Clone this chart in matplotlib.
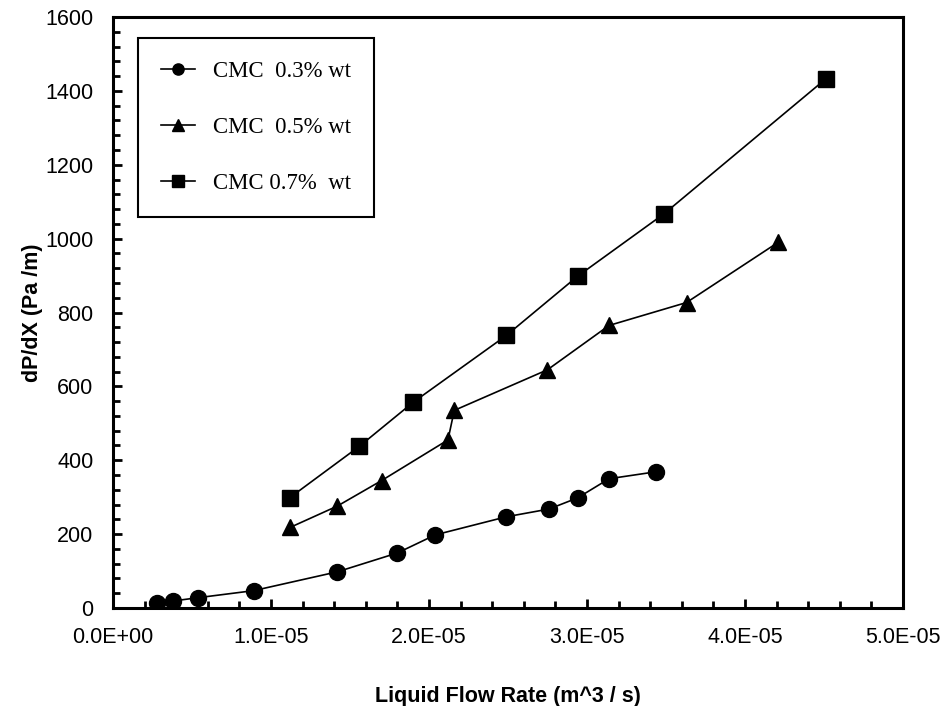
import matplotlib.pyplot as plt
from matplotlib.ticker import MultipleLocator, FuncFormatter

# CMC 0.3% wt
q_03 = [2.8e-6, 3.8e-6, 5.4e-6, 8.9e-6, 1.42e-5, 1.80e-5, 2.04e-5, 2.49e-5, 2.76e-5, 2.94e-5, 3.14e-5, 3.44e-5]
dp_03 = [14, 19, 28, 47, 98, 149, 198, 247, 268, 298, 350, 369]
# CMC 0.5% wt
q_05 = [1.12e-5, 1.42e-5, 1.70e-5, 2.12e-5, 2.16e-5, 2.75e-5, 3.14e-5, 3.63e-5, 4.21e-5]
dp_05 = [218, 276, 345, 455, 535, 645, 765, 827, 990]
# CMC 0.7% wt
q_07 = [1.12e-5, 1.56e-5, 1.90e-5, 2.49e-5, 2.94e-5, 3.49e-5, 4.51e-5]
dp_07 = [299, 438, 557, 738, 898, 1068, 1432]

labels = ['CMC  0.3% wt', 'CMC  0.5% wt', 'CMC 0.7%  wt']

tick_font = ['Liberation Sans', 'DejaVu Sans']

fig = plt.figure(figsize=(9.48, 7.06), dpi=100)
ax = fig.add_axes([0.1192, 0.1388, 0.8333, 0.8371])

ax.plot(q_03, dp_03, 'k-o', lw=1.2, ms=11.5, label=labels[0])
ax.plot(q_05, dp_05, 'k-^', lw=1.2, ms=12, label=labels[1])
ax.plot(q_07, dp_07, 'k-s', lw=1.2, ms=11.5, label=labels[2])

ax.set_xlim(0, 5e-5)
ax.set_ylim(0, 1600)
ax.xaxis.set_major_locator(MultipleLocator(1e-5))
ax.xaxis.set_minor_locator(MultipleLocator(2e-6))
ax.yaxis.set_major_locator(MultipleLocator(200))
ax.yaxis.set_minor_locator(MultipleLocator(40))
ax.xaxis.set_major_formatter(FuncFormatter(lambda v, p: '%.1E' % v))

for s in ax.spines.values():
    s.set_linewidth(2.2)
ax.tick_params(which='both', direction='in', top=False, right=False, width=2)
ax.tick_params(which='major', length=6.5, pad=14)
ax.tick_params(which='minor', length=5)
for t in ax.get_xticklabels() + ax.get_yticklabels():
    t.set_family(tick_font)
    t.set_fontsize(15.5)

ax.set_xlabel('Liquid Flow Rate (m^3 / s)', family=tick_font, fontsize=15.5,
              fontweight='bold', labelpad=27)
ax.set_ylabel('dP/dX (Pa /m)', family=tick_font, fontsize=15.5,
              fontweight='bold', labelpad=2)

leg = ax.legend(loc='upper left', bbox_to_anchor=(138 / 948, 1 - 38 / 706),
                bbox_transform=fig.transFigure, borderaxespad=0,
                prop={'family': ['Liberation Serif', 'DejaVu Serif'], 'size': 16.4},
                fancybox=False, edgecolor='black', framealpha=1,
                handlelength=1.5, handletextpad=0.8, labelspacing=1.55,
                borderpad=1.0, markerscale=0.7)
leg.get_frame().set_linewidth(1.5)

fig.savefig('out.png', dpi=100)
